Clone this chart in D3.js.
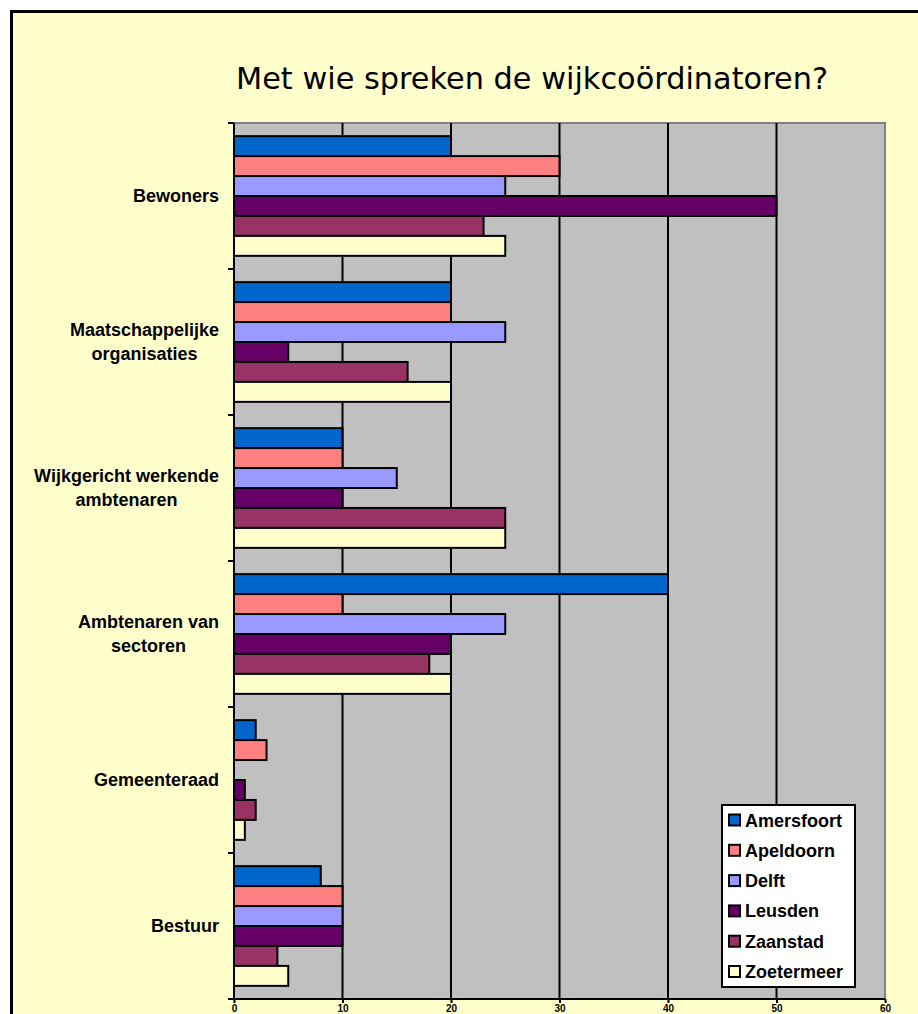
<!DOCTYPE html>
<html>
<head>
<meta charset="utf-8">
<script src="https://cdn.jsdelivr.net/npm/d3@7"></script>
<style>
  body { margin: 0; background: #ffffff; }
</style>
</head>
<body>
<div id="chart"></div>
<script>
const width = 918;
const height = 1014;
const marginTop = 123;
const marginBottom = 15;
const marginRight = 33;
const marginLeft = 234;

const categories = ["Bewoners", "Maatschappelijke organisaties", "Wijkgericht werkende ambtenaren",
    "Ambtenaren van sectoren", "Gemeenteraad", "Bestuur"];
const categoryLines = [["Bewoners"], ["Maatschappelijke", "organisaties"], ["Wijkgericht werkende", "ambtenaren"],
    ["Ambtenaren van", "sectoren"], ["Gemeenteraad"], ["Bestuur"]];
const cities = ["Amersfoort", "Apeldoorn", "Delft", "Leusden", "Zaanstad", "Zoetermeer"];
const colors = ["#0066cc", "#ff8080", "#9999ff", "#660066", "#993366", "#ffffcc"];

const amersfoort = [20, 20, 10, 40, 2, 8];
const apeldoorn = [30, 20, 10, 10, 3, 10];
const delft = [25, 25, 15, 25, 0, 10];
const leusden = [50, 5, 10, 20, 1, 10];
const zaanstad = [23, 16, 25, 18, 2, 4];
const zoetermeer = [25, 20, 25, 20, 1, 5];
const xTicks = [0, 10, 20, 30, 40, 50, 60];

const series = [amersfoort, apeldoorn, delft, leusden, zaanstad, zoetermeer];

const svg = d3.select("#chart").append("svg")
    .attr("width", width)
    .attr("height", height);

// background frame
svg.append("rect")
    .attr("x", 11.5)
    .attr("y", 11.5)
    .attr("width", width)
    .attr("height", height)
    .attr("fill", "#ffffcc")
    .attr("stroke", "#000")
    .attr("stroke-width", 3);

const x = d3.scaleLinear()
    .domain([0, 60])
    .range([marginLeft, width - marginRight]);

const y = d3.scaleBand()
    .domain(categories)
    .range([marginTop, height - marginBottom])
    .paddingInner(0.18)
    .paddingOuter(0.09);

const yInner = d3.scaleBand()
    .domain(cities)
    .range([0, y.bandwidth()]);

const plotTop = marginTop;
const plotBottom = height - marginBottom;

svg.append("rect")
    .attr("x", x(0))
    .attr("y", plotTop)
    .attr("width", x(60) - x(0))
    .attr("height", plotBottom - plotTop)
    .attr("fill", "#c0c0c0")
    .attr("stroke", "#808080")
    .attr("stroke-width", 2);

svg.append("g")
    .selectAll("line")
    .data(xTicks.slice(1, -1))
    .join("line")
    .attr("x1", d => x(d))
    .attr("x2", d => x(d))
    .attr("y1", plotTop)
    .attr("y2", plotBottom)
    .attr("stroke", "#000")
    .attr("stroke-width", 2);

// bars
cities.forEach((city, i) => {
    svg.append("g")
        .selectAll("rect")
        .data(series[i].map((v, j) => ({ cat: categories[j], value: v })))
        .join("rect")
        .filter(d => d.value > 0)
        .attr("x", x(0))
        .attr("y", d => y(d.cat) + yInner(city))
        .attr("width", d => x(d.value) - x(0))
        .attr("height", yInner.bandwidth())
        .attr("fill", colors[i])
        .attr("stroke", "#000")
        .attr("stroke-width", 2);
});

// left axis line with ticks at category boundaries
const boundaries = categories.map(c => y(c) - y.step() * y.paddingInner() / 2);
boundaries.push(plotBottom);

svg.append("line")
    .attr("x1", x(0)).attr("x2", x(0))
    .attr("y1", plotTop).attr("y2", plotBottom)
    .attr("stroke", "#000").attr("stroke-width", 2);

svg.append("g")
    .selectAll("line")
    .data(boundaries)
    .join("line")
    .attr("x1", x(0) - 6).attr("x2", x(0))
    .attr("y1", d => d).attr("y2", d => d)
    .attr("stroke", "#000").attr("stroke-width", 2);

// bottom axis
const xAxis = svg.append("g")
    .attr("transform", `translate(0,${plotBottom})`)
    .call(d3.axisBottom(x).tickValues(xTicks).tickSize(4).tickPadding(2));
xAxis.select(".domain").attr("stroke-width", 2).attr("d", `M${x(0)},0H${x(60)}`);
xAxis.selectAll(".tick line").attr("stroke-width", 2);
xAxis.selectAll("text")
    .style("font-family", "Arial, 'Liberation Sans', sans-serif")
    .style("font-weight", "bold")
    .style("font-size", "10px");

// category labels: lines centred on each other, block right-aligned
categories.forEach((c, i) => {
    const lines = categoryLines[i];
    const cy = y(c) + y.bandwidth() / 2;
    const lineH = 24;
    const label = svg.append("text")
        .attr("text-anchor", "middle")
        .style("font-family", "Arial, 'Liberation Sans', sans-serif")
        .style("font-weight", "bold")
        .style("font-size", "18px");
    lines.forEach((l, k) => {
        label.append("tspan")
            .attr("x", 0)
            .attr("y", cy + (k - (lines.length - 1) / 2) * lineH + 6)
            .text(l);
    });
    const w = label.node().getBBox().width;
    label.selectAll("tspan").attr("x", 219 - w / 2);
});

// title
svg.append("text")
    .attr("x", 532)
    .attr("y", 89)
    .attr("text-anchor", "middle")
    .attr("textLength", 592)
    .attr("lengthAdjust", "spacingAndGlyphs")
    .text("Met wie spreken de wijkcoördinatoren?")
    .style("font-family", "'Comic Sans MS', 'DejaVu Sans', sans-serif")
    .style("font-size", "31px");

// legend
const legend = svg.append("g")
    .attr("transform", "translate(722,805)");

legend.append("rect")
    .attr("width", 133)
    .attr("height", 182)
    .attr("fill", "#fff")
    .attr("stroke", "#000")
    .attr("stroke-width", 2);

const rows = legend.selectAll("g.row")
    .data(cities)
    .join("g")
    .attr("class", "row")
    .attr("transform", (d, i) => `translate(0,${15 + i * 30.3})`);

rows.append("rect")
    .attr("x", 7)
    .attr("y", -5.5)
    .attr("width", 11)
    .attr("height", 11)
    .attr("fill", (d, i) => colors[i])
    .attr("stroke", "#000")
    .attr("stroke-width", 2);

rows.append("text")
    .attr("x", 23)
    .attr("y", 6.5)
    .text(d => d)
    .style("font-family", "Arial, 'Liberation Sans', sans-serif")
    .style("font-weight", "bold")
    .style("font-size", "18px");
</script>
</body>
</html>
